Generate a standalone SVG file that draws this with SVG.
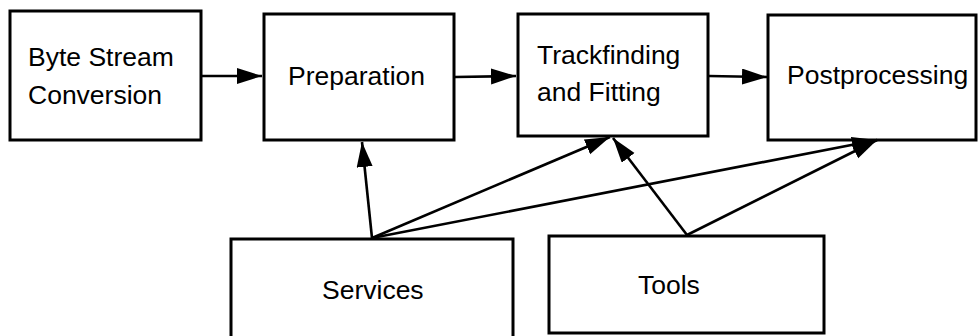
<svg xmlns="http://www.w3.org/2000/svg" width="978" height="336" viewBox="0 0 978 336">
<defs>
<style>
.box{fill:#fff;stroke:#000;stroke-width:3}
.t{font-family:"Liberation Sans",Arial,sans-serif;font-size:26.5px;fill:#000}
.c{stroke:#000;stroke-width:2.6;fill:none;marker-end:url(#ah)}
</style>
<marker id="ah" markerUnits="userSpaceOnUse" markerWidth="27" markerHeight="17" refX="25" refY="8" orient="auto" viewBox="0 0 27 17">
<path d="M0,0 L25,8 L0,16 z" fill="#000"/>
</marker>
</defs>
<rect width="978" height="336" fill="#fff"/>
<g id="byte-stream">
<rect class="box" x="10" y="11" width="191" height="129"/>
<text class="t" x="28" y="66">Byte Stream</text>
<text class="t" x="28" y="104">Conversion</text>
</g>
<g id="preparation">
<rect class="box" x="264" y="14" width="190" height="126"/>
<text class="t" x="288" y="85">Preparation</text>
</g>
<g id="trackfinding">
<rect class="box" x="518" y="14" width="190" height="122"/>
<text class="t" x="537" y="64">Trackfinding</text>
<text class="t" x="537" y="101">and Fitting</text>
</g>
<g id="postprocessing">
<rect class="box" x="768" y="15" width="208" height="125"/>
<text class="t" x="787" y="84">Postprocessing</text>
</g>
<g id="services">
<rect class="box" x="231" y="239" width="282" height="100"/>
<text class="t" x="322" y="299">Services</text>
</g>
<g id="tools">
<rect class="box" x="549" y="236" width="275" height="97"/>
<text class="t" x="638" y="294">Tools</text>
</g>
<g id="connectors">
<line class="c" x1="202" y1="76" x2="262" y2="76"/>
<line class="c" x1="455" y1="77" x2="516" y2="76"/>
<line class="c" x1="709" y1="76" x2="767" y2="77"/>
<line class="c" x1="372" y1="238" x2="362" y2="142"/>
<line class="c" x1="372" y1="238" x2="610" y2="137"/>
<line class="c" x1="372" y1="238" x2="877" y2="140"/>
<line class="c" x1="687" y1="235" x2="613" y2="138"/>
<line class="c" x1="687" y1="235" x2="877" y2="140"/>
</g>
</svg>
